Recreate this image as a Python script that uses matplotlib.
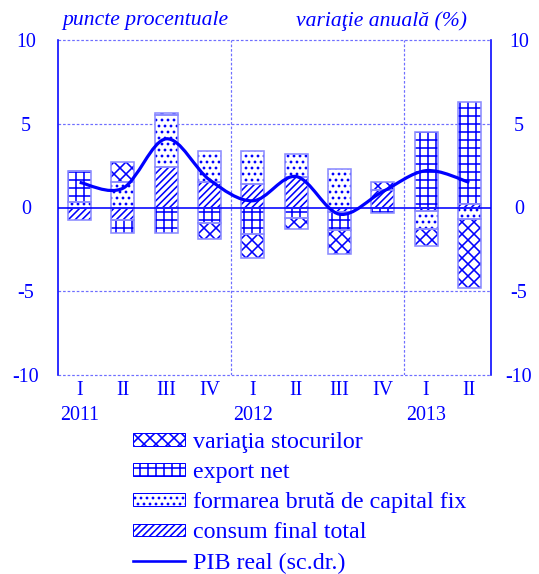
import numpy as np
import matplotlib
matplotlib.use("Agg")
import matplotlib.pyplot as plt
from matplotlib.path import Path
from matplotlib.patches import PathPatch, Patch
from matplotlib.lines import Line2D

# ---- data ----
quarters = ['I', 'II', 'III', 'IV', 'I', 'II', 'III', 'IV', 'I', 'II']
years = ['2011', '', '', '', '2012', '', '', '', '2013', '']
consum = [-0.75, -0.75, 2.4, 1.55, 1.4, 1.85, -0.25, 1.05, -0.2, 0.2]
formarea = [0.35, 1.5, 3.15, 1.85, 2.0, 1.35, 2.3, 0.0, -1.1, -0.7]
export_net = [1.85, -0.75, -1.5, -0.9, -1.6, -0.65, -1.1, -0.3, 4.5, 6.1]
stocuri = [0.0, 1.2, 0.1, -1.0, -1.4, -0.65, -1.45, 0.45, -1.0, -4.1]
pib = [1.5, 1.15, 4.1, 1.65, 0.4, 1.85, -0.4, 0.95, 2.2, 1.5]

labels = ['variaţia stocurilor', 'export net', 'formarea brută de capital fix',
          'consum final total', 'PIB real (sc.dr.)']

BLUE = '#0000ff'
EDGE = '#8c8cff'
GRID = '#6e6eff'

H_CONS, H_FORM, H_EXP, H_STOC = '///////', '....', '+++', 'xxxx'

plt.rcParams['font.family'] = ['Liberation Serif', 'DejaVu Serif']
plt.rcParams['font.size'] = 10
plt.rcParams['hatch.linewidth'] = 0.8

DPI = 144
fig = plt.figure(figsize=(539 / DPI, 574 / DPI), dpi=DPI)
L, R, T, B = 58, 491, 40, 375
ax = fig.add_axes([L / 539, 1 - B / 574, (R - L) / 539, (B - T) / 574])

x = np.arange(len(quarters))
width = 0.53
series = [(consum, H_CONS), (formarea, H_FORM), (export_net, H_EXP), (stocuri, H_STOC)]
pos_bottom = np.zeros(len(x))
neg_bottom = np.zeros(len(x))
for vals, hatch in series:
    v = np.array(vals, dtype=float)
    bottom = np.where(v >= 0, pos_bottom, neg_bottom)
    ax.bar(x, v, width, bottom=bottom, color='white', edgecolor=BLUE,
           hatch=hatch, linewidth=0, zorder=2)
    ax.bar(x, v, width, bottom=bottom, fill=False, edgecolor=EDGE,
           linewidth=0.8, zorder=2.5)
    pos_bottom = np.where(v >= 0, pos_bottom + v, pos_bottom)
    neg_bottom = np.where(v < 0, neg_bottom + v, neg_bottom)

ax.set_xlim(-0.5, len(x) - 0.5)
ax.set_ylim(-10, 10)
ax.set_yticks([-10, -5, 0, 5, 10])
ax.set_yticklabels(['-10', '-5', '0', '5', '10'])
ax.set_xticks(x)
ax.set_xticklabels([q + ('\n' + y if y else '') for q, y in zip(quarters, years)],
                   va='top', linespacing=1.45)
ax.tick_params(axis='both', length=0, colors=BLUE, labelsize=10)
ax.tick_params(axis='x', pad=3)
ax.tick_params(axis='y', pad=16)
for t in ax.get_yticklabels():
    t.set_ha('center')

for s in ['top', 'bottom']:
    ax.spines[s].set_visible(False)
for s in ['left', 'right']:
    ax.spines[s].set_color(BLUE)
    ax.spines[s].set_linewidth(0.8)

for yv in [-10, -5, 5, 10]:
    ax.axhline(yv, color=GRID, lw=0.6, dashes=(2.2, 1.6), zorder=1, clip_on=False)
for xv in [3.5, 7.5]:
    ax.axvline(xv, color=GRID, lw=0.6, dashes=(2.2, 1.6), zorder=1)
ax.axhline(0, color=BLUE, lw=0.8, zorder=3)

ax2 = ax.twinx()
ax2.set_ylim(-10, 10)
ax2.set_yticks([-10, -5, 0, 5, 10])
ax2.set_yticklabels(['-10', '-5', '0', '5', '10'])
ax2.tick_params(axis='y', length=0, colors=BLUE, labelsize=10, pad=14)
for t in ax2.get_yticklabels():
    t.set_ha('center')
for s in ax2.spines.values():
    s.set_visible(False)

# smoothed line (Catmull-Rom -> Bezier)
px = np.array(x, dtype=float)
py = np.array(pib, dtype=float)
verts = [(px[0], py[0])]
codes = [Path.MOVETO]
n = len(px)
for i in range(n - 1):
    p0 = np.array([px[max(i - 1, 0)], py[max(i - 1, 0)]])
    p1 = np.array([px[i], py[i]])
    p2 = np.array([px[i + 1], py[i + 1]])
    p3 = np.array([px[min(i + 2, n - 1)], py[min(i + 2, n - 1)]])
    c1 = p1 + (p2 - p0) / 6.0
    c2 = p2 - (p3 - p1) / 6.0
    verts += [tuple(c1), tuple(c2), tuple(p2)]
    codes += [Path.CURVE4] * 3
ax2.add_patch(PathPatch(Path(verts, codes), fill=False, edgecolor=BLUE,
                        lw=1.6, zorder=5, capstyle='butt'))

fig.text(62 / 539, 1 - 21 / 574, 'puncte procentuale', style='italic',
         color=BLUE, fontsize=10.8, ha='left', va='center')
fig.text(467 / 539, 1 - 21 / 574, 'variaţie anuală (%)', style='italic',
         color=BLUE, fontsize=10.8, ha='right', va='center')

handles = [
    Patch(facecolor='white', edgecolor=BLUE, hatch=H_STOC, linewidth=0.5),
    Patch(facecolor='white', edgecolor=BLUE, hatch=H_EXP, linewidth=0.5),
    Patch(facecolor='white', edgecolor=BLUE, hatch=H_FORM, linewidth=0.5),
    Patch(facecolor='white', edgecolor=BLUE, hatch=H_CONS, linewidth=0.5),
    Line2D([], [], color=BLUE, lw=1.3),
]
leg = fig.legend(handles, labels, loc='upper left',
                 bbox_to_anchor=(133 / 539, 1 - 432 / 574), frameon=False,
                 handlelength=2.17, handleheight=0.42, handletextpad=0.33,
                 labelspacing=0.38, fontsize=12, borderaxespad=0, borderpad=0)
for t in leg.get_texts():
    t.set_color(BLUE)

fig.savefig('out.png', dpi=DPI)
